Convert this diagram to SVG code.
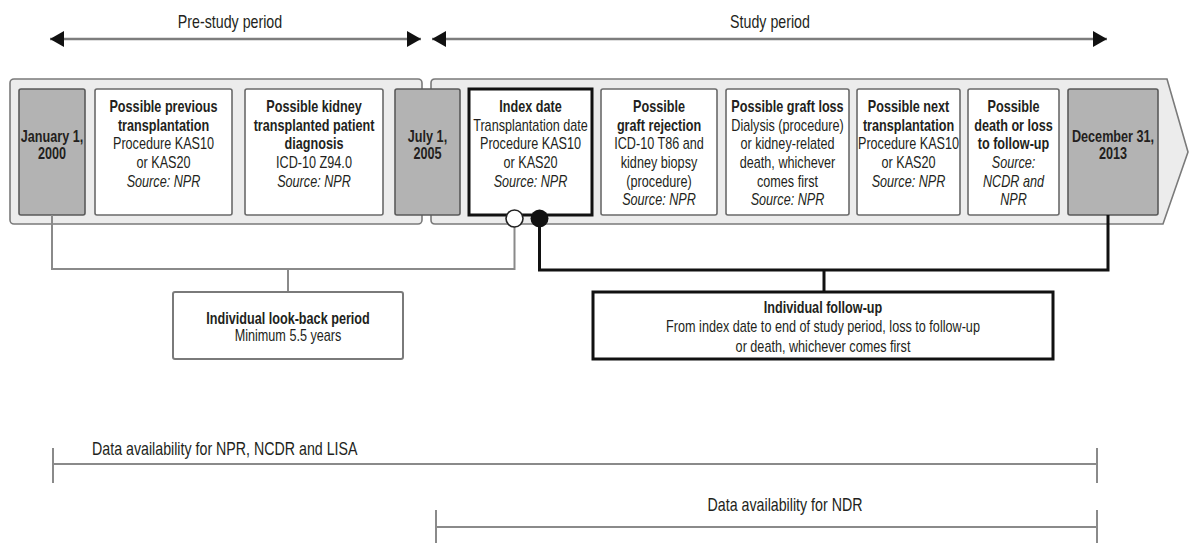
<svg xmlns="http://www.w3.org/2000/svg" width="1189" height="543" viewBox="0 0 1189 543">
<style>
text{font-family:"Liberation Sans",Arial,sans-serif;fill:#231f20;text-anchor:middle}
.s{font-size:16px}
.l{font-size:18px}
.b{font-weight:700}
.i{font-style:italic}
.band{fill:#ececec;stroke:#7a7a7a;stroke-width:1.6}
.box{fill:#ffffff;stroke:#6a6a6a;stroke-width:1.6}
.date{fill:#b3b3b3;stroke:#5a5a5a;stroke-width:1.6}
.thick{fill:#ffffff;stroke:#111;stroke-width:3}
.gl{fill:none;stroke:#8a8a8a;stroke-width:2}
.bl{fill:none;stroke:#111;stroke-width:3}
.per{fill:none;stroke:#7d7d7d;stroke-width:2.5}
</style>
<defs>
<marker id="ah" viewBox="0 0 14 16" refX="14" refY="8" markerWidth="14" markerHeight="16" markerUnits="userSpaceOnUse" orient="auto-start-reverse">
<path d="M0,0 L14,8 L0,16 Z" fill="#111"/>
</marker>
</defs>

<g id="periods">
<line class="per" x1="50" y1="39" x2="421" y2="39" marker-start="url(#ah)" marker-end="url(#ah)"/>
<line class="per" x1="432" y1="39" x2="1107" y2="39" marker-start="url(#ah)" marker-end="url(#ah)"/>
<text class="l" transform="translate(230,28) scale(0.79,1)">Pre-study period</text>
<text class="l" transform="translate(770,28) scale(0.79,1)">Study period</text>
</g>

<g id="band">
<rect class="band" x="10" y="79" width="412" height="145" rx="4"/>
<path class="band" d="M435,79 H1167 L1188,152 L1163,224 H435 Q431,224 431,220 V83 Q431,79 435,79 Z"/>
</g>

<g id="jan">
<rect class="date" x="19" y="89" width="66" height="126" rx="2"/>
<text class="s b" transform="translate(52,141.5) scale(0.79,1)"><tspan x="0">January 1,</tspan><tspan x="0" dy="17.5">2000</tspan></text>
</g>

<g id="prev">
<rect class="box" x="95" y="89" width="137" height="126" rx="2"/>
<text class="s" transform="translate(163.5,112) scale(0.79,1)"><tspan x="0" class="b">Possible previous</tspan><tspan x="0" dy="18.7" class="b">transplantation</tspan><tspan x="0" dy="18.7">Procedure KAS10</tspan><tspan x="0" dy="18.7">or KAS20</tspan><tspan x="0" dy="18.7" class="i">Source: NPR</tspan></text>
</g>

<g id="diag">
<rect class="box" x="245" y="89" width="138" height="126" rx="2"/>
<text class="s" transform="translate(314,112) scale(0.79,1)"><tspan x="0" class="b">Possible kidney</tspan><tspan x="0" dy="18.7" class="b">transplanted patient</tspan><tspan x="0" dy="18.7" class="b">diagnosis</tspan><tspan x="0" dy="18.7">ICD-10 Z94.0</tspan><tspan x="0" dy="18.7" class="i">Source: NPR</tspan></text>
</g>

<g id="jul">
<rect class="date" x="395" y="89" width="65" height="126" rx="2"/>
<text class="s b" transform="translate(427.5,141.5) scale(0.79,1)"><tspan x="0">July 1,</tspan><tspan x="0" dy="17.5">2005</tspan></text>
</g>

<g id="index">
<rect class="thick" x="469" y="89" width="123" height="126"/>
<text class="s" transform="translate(530.5,112) scale(0.79,1)"><tspan x="0" class="b">Index date</tspan><tspan x="0" dy="18.7">Transplantation date</tspan><tspan x="0" dy="18.7">Procedure KAS10</tspan><tspan x="0" dy="18.7">or KAS20</tspan><tspan x="0" dy="18.7" class="i">Source: NPR</tspan></text>
</g>

<g id="rejection">
<rect class="box" x="601" y="89" width="116" height="126" rx="2"/>
<text class="s" transform="translate(659,112) scale(0.79,1)"><tspan x="0" class="b">Possible</tspan><tspan x="0" dy="18.7" class="b">graft rejection</tspan><tspan x="0" dy="18.7">ICD-10 T86 and</tspan><tspan x="0" dy="18.7">kidney biopsy</tspan><tspan x="0" dy="18.7">(procedure)</tspan><tspan x="0" dy="18.7" class="i">Source: NPR</tspan></text>
</g>

<g id="graftloss">
<rect class="box" x="726" y="89" width="123" height="126" rx="2"/>
<text class="s" transform="translate(787.5,112) scale(0.79,1)"><tspan x="0" class="b">Possible graft loss</tspan><tspan x="0" dy="18.7">Dialysis (procedure)</tspan><tspan x="0" dy="18.7">or kidney-related</tspan><tspan x="0" dy="18.7">death, whichever</tspan><tspan x="0" dy="18.7">comes first</tspan><tspan x="0" dy="18.7" class="i">Source: NPR</tspan></text>
</g>

<g id="nexttx">
<rect class="box" x="857" y="89" width="103" height="126" rx="2"/>
<text class="s" transform="translate(908.5,112) scale(0.79,1)"><tspan x="0" class="b">Possible next</tspan><tspan x="0" dy="18.7" class="b">transplantation</tspan><tspan x="0" dy="18.7">Procedure KAS10</tspan><tspan x="0" dy="18.7">or KAS20</tspan><tspan x="0" dy="18.7" class="i">Source: NPR</tspan></text>
</g>

<g id="death">
<rect class="box" x="968" y="89" width="91" height="126" rx="2"/>
<text class="s" transform="translate(1013.5,112) scale(0.79,1)"><tspan x="0" class="b">Possible</tspan><tspan x="0" dy="18.7" class="b">death or loss</tspan><tspan x="0" dy="18.7" class="b">to follow-up</tspan><tspan x="0" dy="18.7" class="i">Source:</tspan><tspan x="0" dy="18.7" class="i">NCDR and</tspan><tspan x="0" dy="18.7" class="i">NPR</tspan></text>
</g>

<g id="dec">
<rect class="date" x="1068" y="89" width="90" height="126" rx="2"/>
<text class="s b" transform="translate(1113,141.5) scale(0.79,1)"><tspan x="0">December 31,</tspan><tspan x="0" dy="17.5">2013</tspan></text>
</g>

<g id="connectors">
<path class="gl" d="M52,215 V269 H514.5 V227"/>
<path class="gl" d="M288,269 V292"/>
<path class="bl" d="M539.5,227 V270 H1108 V215"/>
<path class="bl" d="M824,270 V292"/>
<circle cx="514.5" cy="218.5" r="8.5" fill="#fff" stroke="#222" stroke-width="1.6"/>
<circle cx="539.5" cy="218.5" r="9" fill="#111"/>
</g>

<g id="lookback">
<rect class="box" x="173" y="292" width="230" height="67" rx="2" style="stroke:#7a7a7a;stroke-width:2"/>
<text class="s" transform="translate(288,323.5) scale(0.79,1)"><tspan x="0" class="b">Individual look-back period</tspan><tspan x="0" dy="18">Minimum 5.5 years</tspan></text>
</g>

<g id="followup">
<rect class="thick" x="593" y="292" width="460" height="67"/>
<text class="s" transform="translate(823,313) scale(0.79,1)"><tspan x="0" class="b">Individual follow-up</tspan><tspan x="0" dy="19.5">From index date to end of study period, loss to follow-up</tspan><tspan x="0" dy="19.5">or death, whichever comes first</tspan></text>
</g>

<g id="availability">
<path class="gl" d="M53,464 H1097 M53,448 V483 M1097,448 V483"/>
<text class="l" style="text-anchor:start" transform="translate(92,455) scale(0.79,1)">Data availability for NPR, NCDR and LISA</text>
<path class="gl" d="M436,527 H1097 M436,510 V543 M1097,510 V543"/>
<text class="l" transform="translate(785,511) scale(0.79,1)">Data availability for NDR</text>
</g>
</svg>
